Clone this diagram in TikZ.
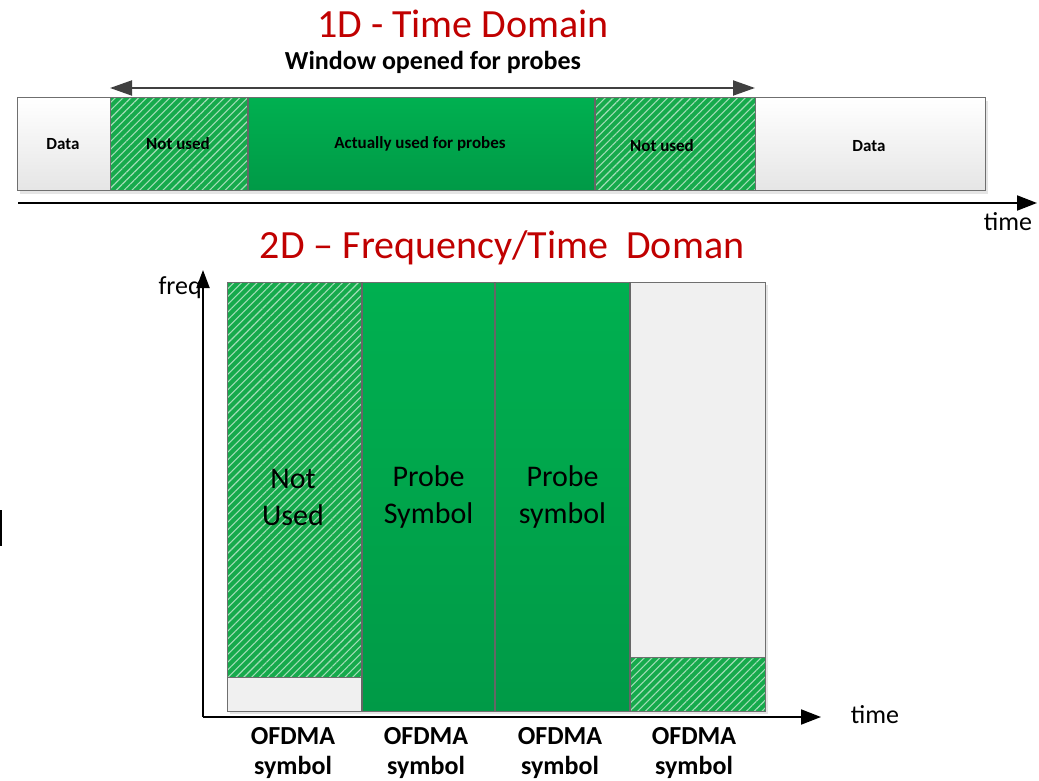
\documentclass[tikz,border=0pt]{standalone}
\usepackage{fontspec}
\setmainfont{Carlito}
\usetikzlibrary{arrows.meta,patterns.meta}
\definecolor{titlered}{HTML}{C00000}
\definecolor{gA}{HTML}{00B050}
\definecolor{gB}{HTML}{009A47}
\definecolor{hatchg}{HTML}{16AA4C}
\definecolor{edge}{HTML}{6F6F6F}
\definecolor{darkarrow}{HTML}{404040}
\tikzset{
  cellbase/.style={draw=edge, line width=1pt, inner sep=0pt, outer sep=0pt, anchor=north west},
  datacell/.style={cellbase, top color=white, bottom color=black!10},
  greencell/.style={cellbase, top color=gA, bottom color=gB},
  hatchcell/.style={cellbase, preaction={fill=hatchg}, pattern={Lines[angle=45,distance=5.5pt,line width=1.1pt]}, pattern color=white!60!hatchg},
  graycell/.style={cellbase, fill=black!6},
  smalllbl/.style={font=\fontsize{17}{20}\selectfont\bfseries, inner sep=0pt},
  titlelbl/.style={font=\fontsize{40}{48}\selectfont, text=titlered, inner sep=0pt},
  axislbl/.style={font=\fontsize{26}{30}\selectfont, inner sep=0pt},
  biglbl/.style={font=\fontsize{30}{37}\selectfont, align=center, inner sep=0pt},
  symlbl/.style={font=\fontsize{26}{30}\selectfont\bfseries, align=center, inner sep=0pt},
  shadowbox/.style={fill=black!10},
  sepline/.style={draw=black!60, line width=1.2pt},
  winarrow/.style={draw=darkarrow, line width=2pt, {Triangle[length=22pt,width=15pt]}-{Triangle[length=22pt,width=15pt]}},
  axisarrow/.style={draw=black, line width=2pt, -{Triangle[length=20pt,width=15pt]}},
  faxisarrow/.style={draw=black, line width=2pt, -{Triangle[length=18pt,width=13pt]}}
}
\begin{document}
\begin{tikzpicture}[x=1pt,y=-1pt]
\useasboundingbox (0,0) rectangle (1039,781);
% titles
\node[titlelbl] (title1) at (463,24) {1D - Time Domain};
\node[font=\fontsize{26}{30}\selectfont\bfseries, inner sep=0pt] (wintxt) at (433,62) {Window opened for probes};
% shadow of top bar
\fill[shadowbox] (20,101) rectangle (988,194);
% top bar cells
\node[datacell, minimum width=93pt, minimum height=92pt] (d1) at (17,98) {};
\node[hatchcell, minimum width=138pt, minimum height=92pt] (n1) at (110,98) {};
\node[greencell, minimum width=347pt, minimum height=92pt] (act) at (248,98) {};
\node[hatchcell, minimum width=160pt, minimum height=92pt] (n2) at (595,98) {};
\node[datacell, minimum width=230pt, minimum height=92pt] (d2) at (755,98) {};
\draw[sepline] (act.north west) -- (act.south west);
\draw[sepline] (act.north east) -- (act.south east);
\node[smalllbl] (d1t) at (63,144) {Data};
\node[smalllbl] (n1t) at (178,144) {Not used};
\node[smalllbl] (actt) at (420,144) {Actually used for probes};
\node[smalllbl] (n2t) at (662,146) {Not used};
\node[smalllbl] (d2t) at (869,146) {Data};
% window arrow
\coordinate (wl) at (110,88);
\coordinate (wr) at (755,88);
\draw[winarrow] (wl) -- (wr);
% time axis 1
\coordinate (t1s) at (18,203);
\coordinate (t1e) at (1037,203);
\draw[axisarrow] (t1s) -- (t1e);
\node[axislbl] (time1) at (1008,222) {time};
% title 2
\node[titlelbl] (title2) at (502,248) {2D – Frequency/Time\ \ Doman};
% shadow of 2D block
\fill[shadowbox] (230,285) rectangle (768,714);
% 2D columns
\node[hatchcell, minimum width=135pt, minimum height=395pt] (c1a) at (227,282) {};
\node[graycell, minimum width=135pt, minimum height=34pt] (c1b) at (227,677) {};
\node[greencell, minimum width=133pt, minimum height=429pt, biglbl] (c2) at (362,282) {Probe\\Symbol};
\node[greencell, minimum width=135pt, minimum height=429pt, biglbl] (c3) at (495,282) {Probe\\symbol};
\node[graycell, minimum width=135pt, minimum height=375pt] (c4a) at (630,282) {};
\node[hatchcell, minimum width=135pt, minimum height=54pt] (c4b) at (630,657) {};
\draw[sepline] (c2.north west) -- (c2.south west);
\draw[sepline] (c3.north west) -- (c3.south west);
\draw[sepline] (c3.north east) -- (c3.south east);
\node[biglbl] (c1t) at (293,497) {Not\\Used};
% axes 2
\coordinate (org) at (203,717);
\coordinate (ftop) at (203,270);
\coordinate (tend) at (821,717);
\draw[faxisarrow] (org) -- (ftop);
\draw[axisarrow] (org) -- (tend);
\node[axislbl, anchor=east] (freq) at (202,288) {freq};
\node[axislbl] (time2) at (875,715) {time};
% symbol labels
\node[symlbl] (s1) at (293,753) {OFDMA\\symbol};
\node[symlbl] (s2) at (426,753) {OFDMA\\symbol};
\node[symlbl] (s3) at (560,753) {OFDMA\\symbol};
\node[symlbl] (s4) at (694,753) {OFDMA\\symbol};
% small mark at left edge
\coordinate (m1) at (1,510);
\coordinate (m2) at (1,546);
\draw[line width=2pt] (m1) -- (m2);
\end{tikzpicture}
\end{document}
